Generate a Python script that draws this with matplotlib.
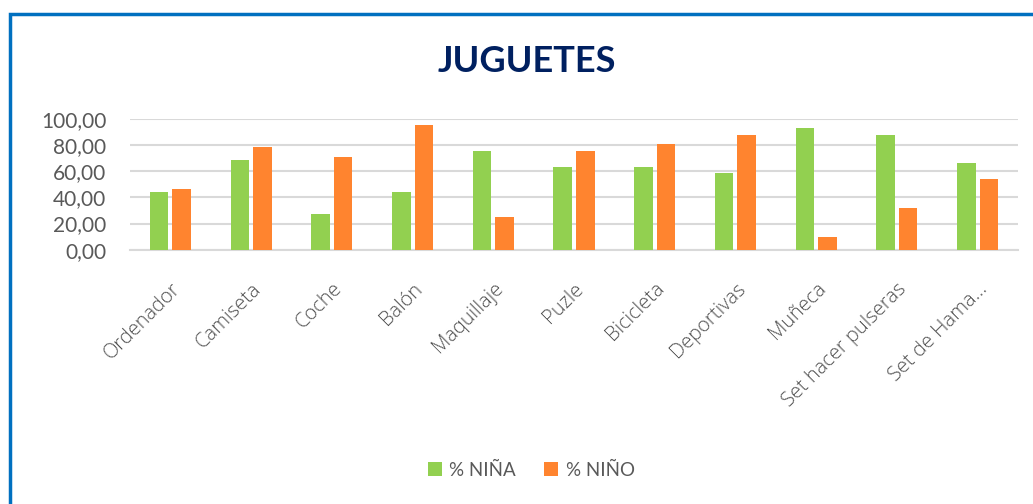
import matplotlib.pyplot as plt
import matplotlib.patches as mpatches
import numpy as np

# datos
juguetes = ["Ordenador", "Camiseta", "Coche", "Balón", "Maquillaje", "Puzle",
            "Bicicleta", "Deportivas", "Muñeca", "Set hacer pulseras", "Set de Hama..."]
nina = [44.1, 68.6, 27.3, 44.0, 75.4, 63.1, 63.1, 58.5, 93.0, 87.6, 66.2]
nino = [46.4, 78.6, 70.9, 95.3, 24.9, 75.4, 80.7, 87.6, 9.6, 31.8, 54.0]

verde = "#92D050"
naranja = "#FF842F"
gris = "#595959"

plt.rcParams['font.family'] = ['Lato', 'DejaVu Sans']

fig = plt.figure(figsize=(10.33, 5.04), dpi=100)
ax = fig.add_axes([130 / 1033, 1 - 249.7 / 504, 888 / 1033, 130.7 / 504])

x = np.arange(len(juguetes))
ancho = 0.23
ax.bar(x - 0.14, nina, ancho, color=verde, label="% NIÑA", zorder=3)
ax.bar(x + 0.14, nino, ancho, color=naranja, label="% NIÑO", zorder=3)

ax.set_xlim(-0.5, len(juguetes) - 0.5)
ax.set_ylim(0, 100)
ax.set_yticks(range(0, 101, 20))
ax.set_yticklabels([f"{v:.2f}".replace(".", ",") for v in range(0, 101, 20)],
                   fontsize=15, color=gris)
ax.yaxis.grid(True, color="#D9D9D9", linewidth=1.5, zorder=0)
ax.tick_params(axis="y", length=0, pad=17)
ax.tick_params(axis="x", length=0, pad=21)
ax.set_xticks(x)
ax.set_xticklabels(juguetes, rotation=45, ha="right", rotation_mode="anchor",
                   fontsize=14.5, color="#505050", family=["Open Sans", "DejaVu Sans"],
                   fontweight="light")
for s in ["top", "right", "left"]:
    ax.spines[s].set_visible(False)
ax.spines["bottom"].set_color("#D9D9D9")
ax.spines["bottom"].set_linewidth(1.5)

fig.text(527 / 1033, 1 - 61 / 504, "JUGUETES", ha="center", va="center",
         fontsize=26, fontweight="bold", color="#002060")

fig.legend(loc="center", bbox_to_anchor=(531 / 1033, 1 - 470 / 504), ncol=2,
           frameon=False, fontsize=13.5, labelcolor=gris, handlelength=0.75,
           handleheight=0.75, handletextpad=0.4, columnspacing=1.5)

# marco azul
marco = mpatches.Rectangle((9.5 / 1033, -0.1), 1.2, 1 - 13.5 / 504 + 0.1,
                           transform=fig.transFigure, fill=False,
                           edgecolor="#0070C0", linewidth=2.5, clip_on=False)
fig.patches.append(marco)

fig.savefig("out.png", dpi=100)
